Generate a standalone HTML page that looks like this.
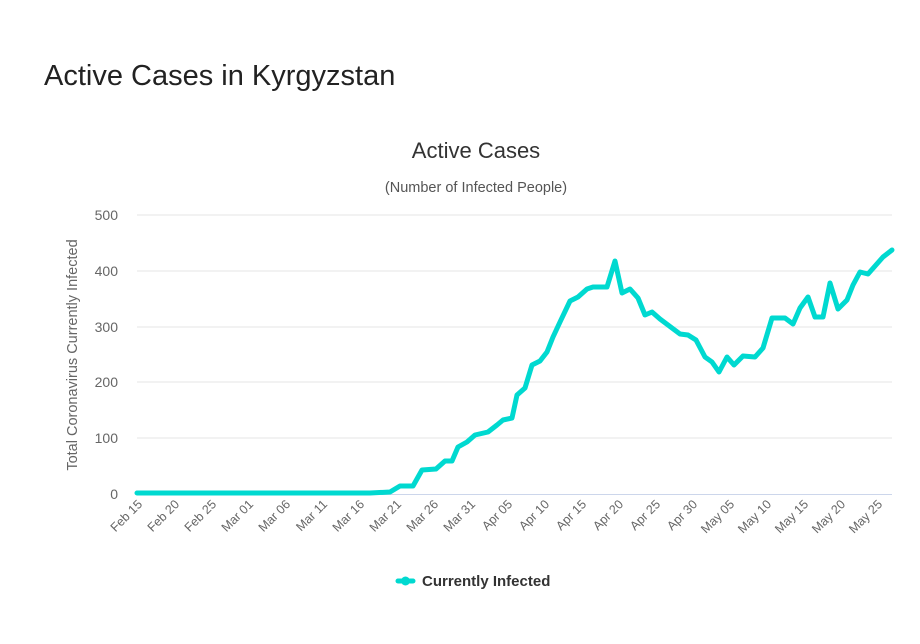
<!DOCTYPE html>
<html><head><meta charset="utf-8"><style>
html,body{margin:0;padding:0;background:#fff;width:920px;height:644px;overflow:hidden}
</style></head><body>
<svg width="920" height="644" xmlns="http://www.w3.org/2000/svg" font-family="Liberation Sans, sans-serif">
<text x="44" y="85" font-size="29" fill="#222">Active Cases in Kyrgyzstan</text>
<text x="476" y="158" font-size="22" fill="#333" text-anchor="middle">Active Cases</text>
<text x="476" y="192" font-size="14.5" fill="#555" text-anchor="middle">(Number of Infected People)</text>
<g stroke="#e6e6e6" stroke-width="1">
<line x1="137" y1="215" x2="892" y2="215"/>
<line x1="137" y1="271" x2="892" y2="271"/>
<line x1="137" y1="327" x2="892" y2="327"/>
<line x1="137" y1="382" x2="892" y2="382"/>
<line x1="137" y1="438" x2="892" y2="438"/>
</g>
<line x1="137" y1="494.5" x2="892" y2="494.5" stroke="#ccd6eb" stroke-width="1"/>
<g font-size="14" fill="#666" text-anchor="end">
<text x="118" y="220">500</text><text x="118" y="276">400</text><text x="118" y="332">300</text>
<text x="118" y="387">200</text><text x="118" y="443">100</text><text x="118" y="499">0</text>
</g>
<text transform="translate(77,355) rotate(-90)" font-size="14.5" fill="#666" text-anchor="middle">Total Coronavirus Currently Infected</text>
<g font-size="12.5" fill="#666" text-anchor="end">
<text transform="translate(143,505) rotate(-45)">Feb 15</text>
<text transform="translate(180,505) rotate(-45)">Feb 20</text>
<text transform="translate(217,505) rotate(-45)">Feb 25</text>
<text transform="translate(254,505) rotate(-45)">Mar 01</text>
<text transform="translate(291,505) rotate(-45)">Mar 06</text>
<text transform="translate(328,505) rotate(-45)">Mar 11</text>
<text transform="translate(365,505) rotate(-45)">Mar 16</text>
<text transform="translate(402,505) rotate(-45)">Mar 21</text>
<text transform="translate(439,505) rotate(-45)">Mar 26</text>
<text transform="translate(476,505) rotate(-45)">Mar 31</text>
<text transform="translate(513,505) rotate(-45)">Apr 05</text>
<text transform="translate(550,505) rotate(-45)">Apr 10</text>
<text transform="translate(587,505) rotate(-45)">Apr 15</text>
<text transform="translate(624,505) rotate(-45)">Apr 20</text>
<text transform="translate(661,505) rotate(-45)">Apr 25</text>
<text transform="translate(698,505) rotate(-45)">Apr 30</text>
<text transform="translate(735,505) rotate(-45)">May 05</text>
<text transform="translate(772,505) rotate(-45)">May 10</text>
<text transform="translate(809,505) rotate(-45)">May 15</text>
<text transform="translate(846,505) rotate(-45)">May 20</text>
<text transform="translate(883,505) rotate(-45)">May 25</text>
</g>
<polyline fill="none" stroke="#00d9d0" stroke-width="5" stroke-linejoin="round" stroke-linecap="round" points="137,493 370,493 390,492 400,486 413,486 422,470 436,469 445,461 452,461 458,447 467,442 475,435 488,432 497,425 503,420 512,418 517,395 525,388 532,365 540,361 547,352 553,337 560,322 570,301 578,297 587,289 593,287 607,287 615,261 622,293 630,289 638,298 645,315 652,312 660,319 668,325 680,334 688,335 696,340 705,357 712,362 719,372 727,357 734,365 743,356 755,357 763,348 772,318 785,318 793,324 800,308 808,297 815,317 823,317 830,283 838,309 847,300 853,285 860,272 868,274 883,257 892,250"/>
<line x1="398" y1="581" x2="413" y2="581" stroke="#00d9d0" stroke-width="5" stroke-linecap="round"/>
<circle cx="405.5" cy="581" r="4.5" fill="#00d9d0"/>
<text x="422" y="586" font-size="15" font-weight="bold" fill="#333">Currently Infected</text>
</svg>
</body></html>
